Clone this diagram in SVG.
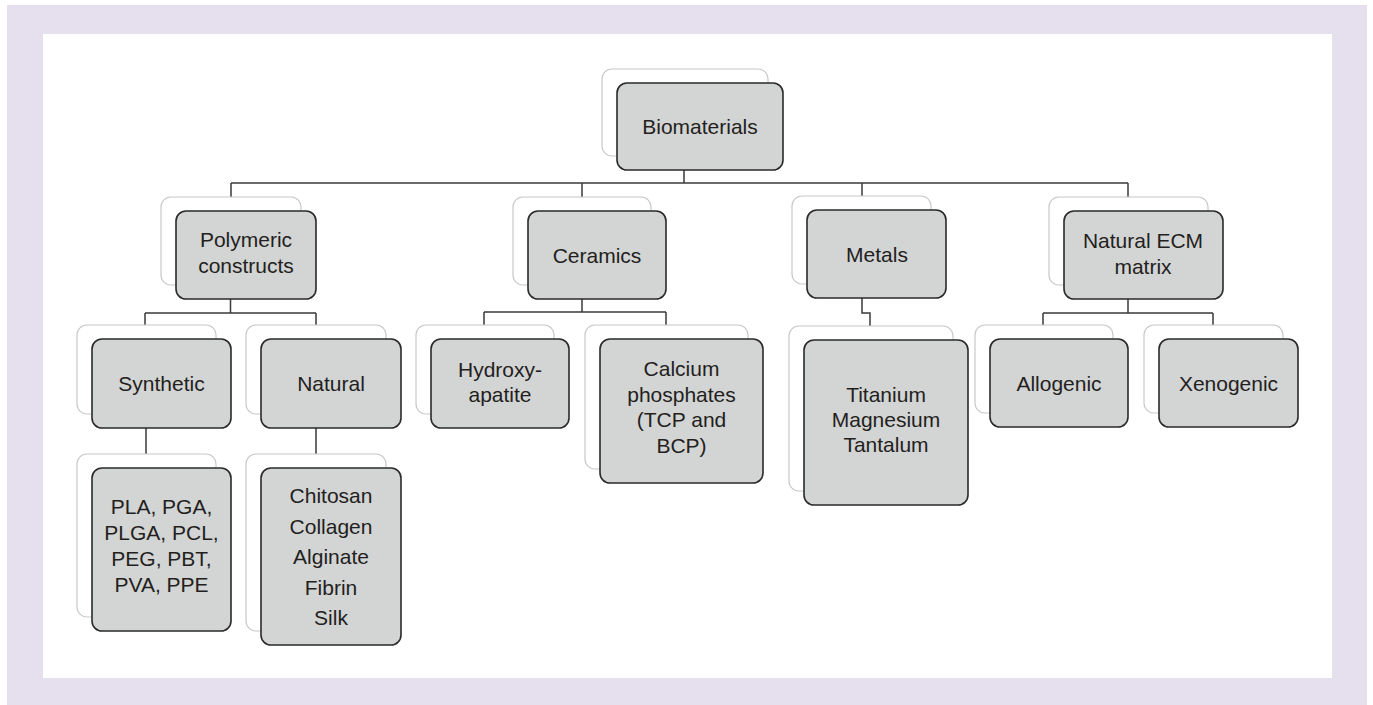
<svg xmlns="http://www.w3.org/2000/svg" width="1373" height="705" viewBox="0 0 1373 705">
<style>
.back{fill:#fff;stroke:#c8c8c8;stroke-width:1.2}
.front{fill:#d3d4d4;stroke:#2a2a2a;stroke-width:1.6}
.t{font-family:"Liberation Sans",Arial,sans-serif;font-size:21px;fill:#231f20;text-anchor:middle}
.c{fill:none;stroke:#3a3a3a;stroke-width:1.5}
</style>
<rect x="0" y="0" width="1373" height="705" fill="#fff"/>
<rect x="7" y="5" width="1360" height="700" fill="#e5dfee"/>
<rect x="43" y="34" width="1289" height="644" fill="#fff"/>
<g id="connectors">
<path class="c" d="M684,170V183M231,183H1128M231,183V197M582,183V197M862,183V196M1128,183V197"/>
<path class="c" d="M230.5,299V313M145,313H316M145,313V325M316,313V325"/>
<path class="c" d="M146,428V454M316,428V454"/>
<path class="c" d="M582,299V312M484,312H666M484,312V325M666,312V325"/>
<path class="c" d="M862,298V313H870V326"/>
<path class="c" d="M1128,299V313M1043,313H1213M1043,313V325M1213,313V325"/>
</g>
<g id="biomaterials"><rect class="back" x="602" y="69" width="166" height="87" rx="10"/><rect class="front" x="617" y="83" width="166" height="87" rx="10"/><text class="t" x="700" y="134">Biomaterials</text></g>
<g id="polymeric"><rect class="back" x="161" y="197" width="140" height="88" rx="10"/><rect class="front" x="176" y="211" width="140" height="88" rx="10"/><text class="t" x="246" y="247">Polymeric</text><text class="t" x="246" y="273">constructs</text></g>
<g id="ceramics"><rect class="back" x="513" y="197" width="138" height="88" rx="10"/><rect class="front" x="528" y="211" width="138" height="88" rx="10"/><text class="t" x="597" y="263">Ceramics</text></g>
<g id="metals"><rect class="back" x="792" y="196" width="139" height="88" rx="10"/><rect class="front" x="807" y="210" width="139" height="88" rx="10"/><text class="t" x="877" y="262">Metals</text></g>
<g id="ecm"><rect class="back" x="1049" y="197" width="159" height="88" rx="10"/><rect class="front" x="1064" y="211" width="159" height="88" rx="10"/><text class="t" x="1143" y="248">Natural ECM</text><text class="t" x="1143" y="274">matrix</text></g>
<g id="synthetic"><rect class="back" x="77" y="325" width="139" height="89" rx="10"/><rect class="front" x="92" y="339" width="139" height="89" rx="10"/><text class="t" x="161.5" y="391">Synthetic</text></g>
<g id="natural"><rect class="back" x="246" y="325" width="140" height="89" rx="10"/><rect class="front" x="261" y="339" width="140" height="89" rx="10"/><text class="t" x="331" y="391">Natural</text></g>
<g id="hydroxyapatite"><rect class="back" x="416" y="325" width="138" height="89" rx="10"/><rect class="front" x="431" y="339" width="138" height="89" rx="10"/><text class="t" x="500" y="377">Hydroxy-</text><text class="t" x="500" y="402">apatite</text></g>
<g id="calcium"><rect class="back" x="585" y="325" width="163" height="144" rx="10"/><rect class="front" x="600" y="339" width="163" height="144" rx="10"/><text class="t" x="681.5" y="376">Calcium</text><text class="t" x="681.5" y="402">phosphates</text><text class="t" x="681.5" y="427">(TCP and</text><text class="t" x="681.5" y="453">BCP)</text></g>
<g id="titanium"><rect class="back" x="789" y="326" width="164" height="165" rx="10"/><rect class="front" x="804" y="340" width="164" height="165" rx="10"/><text class="t" x="886" y="402">Titanium</text><text class="t" x="886" y="427">Magnesium</text><text class="t" x="886" y="452">Tantalum</text></g>
<g id="allogenic"><rect class="back" x="975" y="325" width="138" height="88" rx="10"/><rect class="front" x="990" y="339" width="138" height="88" rx="10"/><text class="t" x="1059" y="391">Allogenic</text></g>
<g id="xenogenic"><rect class="back" x="1144" y="325" width="139" height="88" rx="10"/><rect class="front" x="1159" y="339" width="139" height="88" rx="10"/><text class="t" x="1228.5" y="391">Xenogenic</text></g>
<g id="synthetic-list"><rect class="back" x="77" y="454" width="139" height="163" rx="10"/><rect class="front" x="92" y="468" width="139" height="163" rx="10"/><text class="t" x="161.5" y="514">PLA, PGA,</text><text class="t" x="161.5" y="540">PLGA, PCL,</text><text class="t" x="161.5" y="566">PEG, PBT,</text><text class="t" x="161.5" y="592">PVA, PPE</text></g>
<g id="natural-list"><rect class="back" x="246" y="454" width="140" height="177" rx="10"/><rect class="front" x="261" y="468" width="140" height="177" rx="10"/><text class="t" x="331" y="503">Chitosan</text><text class="t" x="331" y="533.5">Collagen</text><text class="t" x="331" y="564">Alginate</text><text class="t" x="331" y="594.5">Fibrin</text><text class="t" x="331" y="625">Silk</text></g>
</svg>
